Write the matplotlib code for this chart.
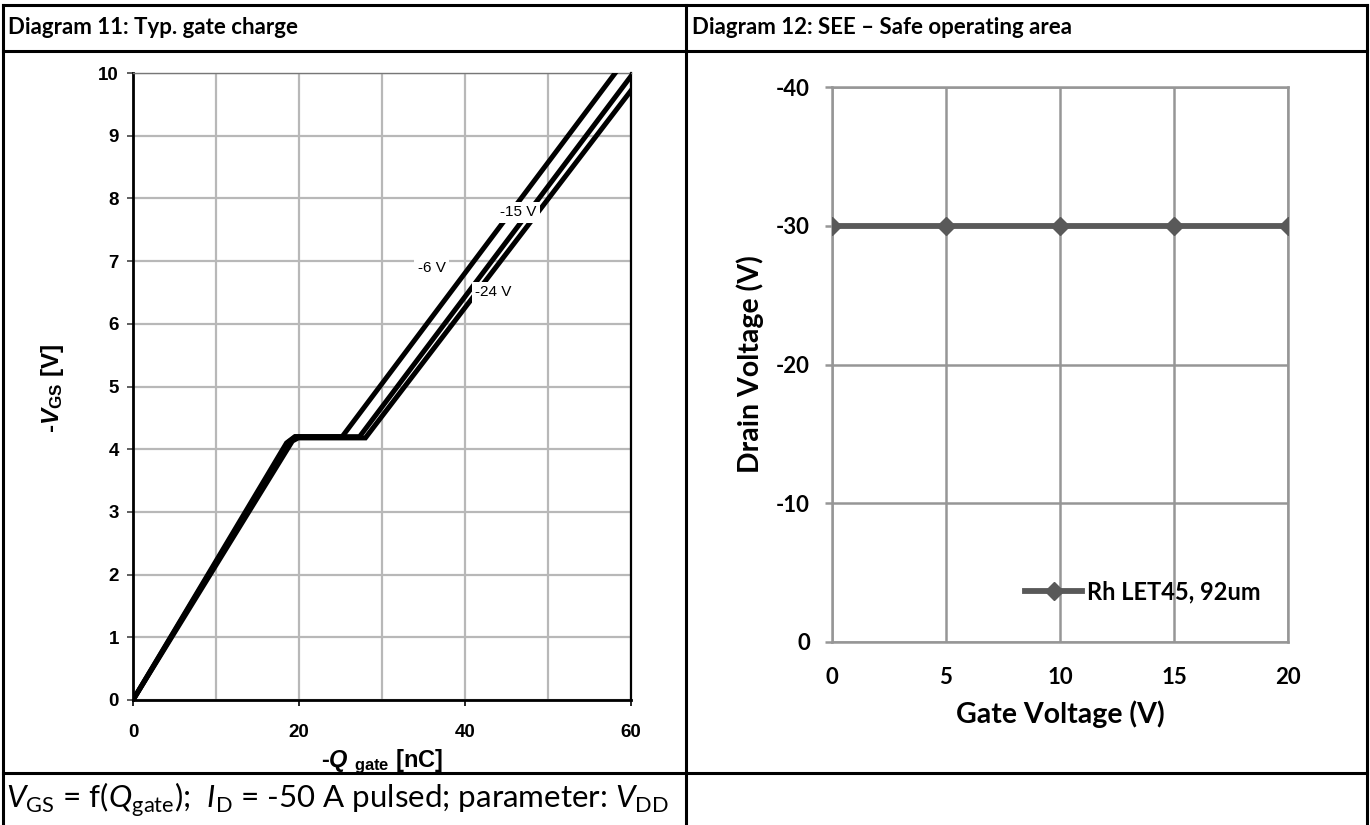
import matplotlib
matplotlib.use("Agg")
import matplotlib.pyplot as plt
from matplotlib.lines import Line2D

# ---- data: diagram 11, gate charge curves (-Q in nC, -V_GS in V)
q_6v = [0, 18.5, 19.5, 25.2, 58.1]
v_6v = [0, 4.10, 4.20, 4.20, 10.0]
q_15v = [0, 18.8, 19.6, 27.3, 60.0]
v_15v = [0, 4.12, 4.20, 4.20, 9.95]
q_24v = [0, 19.2, 19.9, 28.0, 60.0]
v_24v = [0, 4.13, 4.18, 4.18, 9.72]
curve_labels = ["-6 V", "-15 V", "-24 V"]

# ---- data: diagram 12, SEE safe operating area
gate_v = [0, 5, 10, 15, 20]
drain_v = [-30, -30, -30, -30, -30]
soa_label = "Rh LET45, 92um"

W, H = 1370, 825

plt.rcParams["axes.unicode_minus"] = False
plt.rcParams["mathtext.fontset"] = "custom"
plt.rcParams["mathtext.it"] = "Liberation Sans:italic:bold"
plt.rcParams["mathtext.rm"] = "Liberation Sans:bold"
plt.rcParams["mathtext.bf"] = "Liberation Sans:bold"
plt.rcParams["mathtext.sf"] = "Lato:italic"
plt.rcParams["mathtext.tt"] = "Lato"


def box(x0, y0, x1, y1):
    """pixel box (top-left origin) -> figure fraction rect"""
    return [x0 / W, 1 - y1 / H, (x1 - x0) / W, (y1 - y0) / H]


def hline(fig, y, x0, x1, lw=2.2):
    fig.add_artist(Line2D([x0 / W, x1 / W], [1 - y / H, 1 - y / H], color="black", lw=lw))


def vline(fig, x, y0, y1, lw=2.2):
    fig.add_artist(Line2D([x / W, x / W], [1 - y0 / H, 1 - y1 / H], color="black", lw=lw))


fig = plt.figure(figsize=(W / 100, H / 100), dpi=100)

# ---- table frame
hline(fig, 5, 3, 1367)
hline(fig, 51, 3, 1367)
hline(fig, 773, 3, 1367)
vline(fig, 3, 5, 825)
vline(fig, 1367, 5, 825)
vline(fig, 686, 5, 825)

fig.text(8 / W, 1 - 28 / H, "Diagram 11: Typ. gate charge", fontsize=16, fontweight="bold",
         family="Lato", va="center", ha="left")
fig.text(692 / W, 1 - 28 / H, "Diagram 12: SEE \u2013 Safe operating area", fontsize=16,
         fontweight="bold", family="Lato", va="center", ha="left")
fig.text(6 / W, 1 - 800 / H,
         r"$\mathsf{V}_{\mathtt{GS}}$ = f($\mathsf{Q}_{\mathtt{gate}}$);  $\mathsf{I}_{\mathtt{D}}$"
         r" = -50 A pulsed; parameter: $\mathsf{V}_{\mathtt{DD}}$",
         fontsize=22.5, family="Lato", va="center", ha="left")

# ---- diagram 11
ax1 = fig.add_axes(box(133, 73, 631, 700))
for q, v in [(q_6v, v_6v), (q_15v, v_15v), (q_24v, v_24v)]:
    ax1.plot(q, v, color="black", lw=3.6, solid_joinstyle="miter", zorder=3)
ax1.set_xlim(0, 60)
ax1.set_ylim(0, 10)
ax1.set_xticks([0, 20, 40, 60])
ax1.set_xticks([10, 30, 50], minor=True)
ax1.set_yticks(range(0, 11))
ax1.grid(True, which="both", color="#b8b8b8", lw=1.6, zorder=0)
ax1.set_axisbelow(True)
ax1.tick_params(axis="x", which="minor", length=0)
ax1.tick_params(axis="x", which="major", direction="out", length=4, width=1.2, pad=13)
ax1.tick_params(axis="y", direction="out", length=4, width=1.2, pad=6, color="#444444")
for lab in ax1.get_xticklabels() + ax1.get_yticklabels():
    lab.set_family("Liberation Sans")
    lab.set_fontweight("bold")
    lab.set_fontsize(13.5)
ax1.spines["left"].set_linewidth(2)
ax1.spines["bottom"].set_linewidth(2)
ax1.spines["right"].set_linewidth(1.6)
ax1.spines["top"].set_color("#777777")
ax1.spines["top"].set_linewidth(1)

lab_style = dict(fontsize=11, family="Liberation Sans", va="center", ha="center", zorder=5,
                 bbox=dict(fc="white", ec="none", pad=2.5))
ax1.text(36.0, 6.89, curve_labels[0], **lab_style)
ax1.text(46.4, 7.78, curve_labels[1], **lab_style)
ax1.text(43.4, 6.50, curve_labels[2], **lab_style)

fig.text(382 / W, 1 - 762 / H, r"-$Q$ $_{\mathrm{gate}}$ [nC]", fontsize=17, fontweight="bold",
         family="Liberation Sans", ha="center", va="center")
fig.text(52 / W, 1 - 388 / H, r"-$V$$_{\mathrm{GS}}$ [V]", fontsize=17.5, fontweight="bold",
         family="Liberation Sans", ha="center", va="center", rotation=90)

# ---- diagram 12
grey = "#969696"
ax2 = fig.add_axes(box(832, 87, 1288, 642))
ax2.plot(gate_v, drain_v, color="#595959", lw=4.2, marker="D", markersize=9.5,
         label=soa_label, zorder=3)
ax2.set_xlim(0, 20)
ax2.set_ylim(0, -40)
ax2.set_xticks(gate_v)
ax2.set_yticks([0, -10, -20, -30, -40])
ax2.grid(True, color=grey, lw=1.8, zorder=0)
ax2.set_axisbelow(True)
for s in ax2.spines.values():
    s.set_color(grey)
    s.set_linewidth(1.8)
ax2.tick_params(axis="x", length=0, pad=18)
ax2.tick_params(axis="y", length=5, width=1.8, color=grey, pad=11)
for lab in ax2.get_xticklabels() + ax2.get_yticklabels():
    lab.set_family("Lato")
    lab.set_fontweight("bold")
    lab.set_fontsize(16)
leg = ax2.legend(loc="center right", bbox_to_anchor=(0.96, 0.09), frameon=False,
                 handlelength=2.4, handletextpad=0.2, borderaxespad=0,
                 prop=dict(family="Lato", weight="bold", size=17))

fig.text(1060 / W, 1 - 714 / H, "Gate Voltage (V)", fontsize=20.5, fontweight="bold",
         family="Lato", ha="center", va="center")
fig.text(750 / W, 1 - 364 / H, "Drain Voltage (V)", fontsize=20.5, fontweight="bold",
         family="Lato", ha="center", va="center", rotation=90)

fig.savefig("out.png", dpi=100)
